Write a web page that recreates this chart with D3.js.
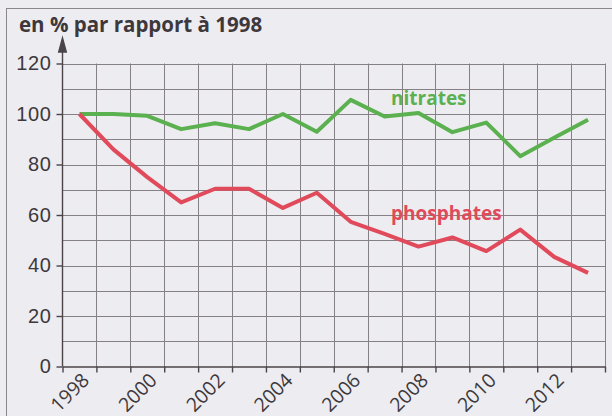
<!DOCTYPE html>
<html>
<head>
<meta charset="utf-8">
<script src="https://cdn.jsdelivr.net/npm/d3@7"></script>
<style>
  html, body { margin: 0; padding: 0; background: #edecf0; }
  svg { display: block; font-family: "Open Sans", sans-serif; }
  .grid line { stroke: #858085; stroke-width: 1; }
  .axis path, .axis line { stroke: #4a4448; stroke-width: 1.4; }
  .axis text { fill: #3d383b; }
</style>
</head>
<body>
<script>
// years, one cell each on the x axis
const years = [1998, 1999, 2000, 2001, 2002, 2003, 2004, 2005,
               2006, 2007, 2008, 2009, 2010, 2011, 2012, 2013];

// index 100 = 1998
const nitrates   = [100, 100, 99.3, 94, 96.3, 94, 100, 93, 105.6, 99, 100.4, 92.8, 96.6, 83.3, 90.6, 97.7];
const phosphates = [100, 86, 75, 65, 70.4, 70.4, 62.8, 68.8, 57.3, 52.5, 47.5, 51.1, 45.7, 54.2, 43.4, 37.1];

const yTicks = [0, 20, 40, 60, 80, 100, 120];
const xLabels = [1998, 2000, 2002, 2004, 2006, 2008, 2010, 2012];

const width = 612,
      height = 416;

const x = d3.scaleLinear()
    .domain([1997.5, 2013.5])
    .range([62.5, 605]);

const y = d3.scaleLinear()
    .domain([0, 120])
    .range([366.5, 63.5]);

const svg = d3.select("body").append("svg")
    .attr("width", width)
    .attr("height", height);

// page frame of the scanned figure
svg.append("rect")
    .attr("x", 6.5).attr("y", 8.5)
    .attr("width", 700).attr("height", 500)
    .attr("fill", "none")
    .attr("stroke", "#8a868a")
    .attr("stroke-width", 1);

svg.append("text")
    .attr("x", 19).attr("y", 32)
    .attr("font-size", 20.5)
    .attr("font-weight", 700)
    .attr("fill", "#3d383b")
    .text("en % par rapport à 1998");

// grid
const grid = svg.append("g").attr("class", "grid");

grid.selectAll(".h")
  .data(d3.range(10, 121, 10))
  .join("line")
    .attr("x1", x.range()[0]).attr("x2", x.range()[1])
    .attr("y1", d => Math.round(y(d)) + 0.5)
    .attr("y2", d => Math.round(y(d)) + 0.5);

grid.selectAll(".v")
  .data(years.map(d => d + 0.5))
  .join("line")
    .attr("x1", d => Math.round(x(d)) + 0.5).attr("x2", d => Math.round(x(d)) + 0.5)
    .attr("y1", y(0)).attr("y2", y(120));

// x axis: ticks on cell borders, labels on even years
svg.append("g")
    .attr("class", "axis")
    .attr("transform", `translate(0,${y(0)})`)
    .call(d3.axisBottom(x)
        .tickValues([1997.5].concat(years.map(d => d + 0.5)))
        .tickSize(6)
        .tickSizeOuter(0)
        .tickFormat(""));

svg.append("g")
    .selectAll("text")
    .data(xLabels)
    .join("text")
      .attr("transform", d => `translate(${x(d + 0.5) - 6},${y(0) + 15}) rotate(-45)`)
      .attr("text-anchor", "end")
      .attr("font-size", 19.5)
      .attr("fill", "#3d383b")
      .text(d => d);

// y axis
const yAxis = svg.append("g")
    .attr("class", "axis")
    .attr("transform", `translate(${x.range()[0]},0)`)
    .call(d3.axisLeft(y)
        .tickValues(yTicks)
        .tickSize(6)
        .tickSizeOuter(0)
        .tickPadding(5));

yAxis.select(".domain").remove();
yAxis.append("line")
    .attr("x1", 0).attr("x2", 0)
    .attr("y1", y(0)).attr("y2", 48);
yAxis.append("path")
    .attr("d", "M0,38L-3.8,52L3.8,52Z")
    .attr("fill", "#4a4448");
yAxis.selectAll(".tick text")
    .attr("font-size", 20)
    .attr("letter-spacing", 0.6);

// series
const line = d3.line()
    .x((d, i) => x(years[i]))
    .y(d => y(d));

svg.append("path")
    .datum(nitrates)
    .attr("fill", "none")
    .attr("stroke", "#5bb04f")
    .attr("stroke-width", 4)
    .attr("stroke-linejoin", "round")
    .attr("d", line);

svg.append("path")
    .datum(phosphates)
    .attr("fill", "none")
    .attr("stroke", "#e04a5a")
    .attr("stroke-width", 4)
    .attr("stroke-linejoin", "round")
    .attr("d", line);

svg.append("text")
    .attr("x", 391).attr("y", 105)
    .attr("font-size", 19)
    .attr("font-weight", 700)
    .attr("fill", "#5bb04f")
    .text("nitrates");

svg.append("text")
    .attr("x", 391).attr("y", 220)
    .attr("font-size", 19)
    .attr("font-weight", 700)
    .attr("fill", "#e04a5a")
    .text("phosphates");
</script>
</body>
</html>
